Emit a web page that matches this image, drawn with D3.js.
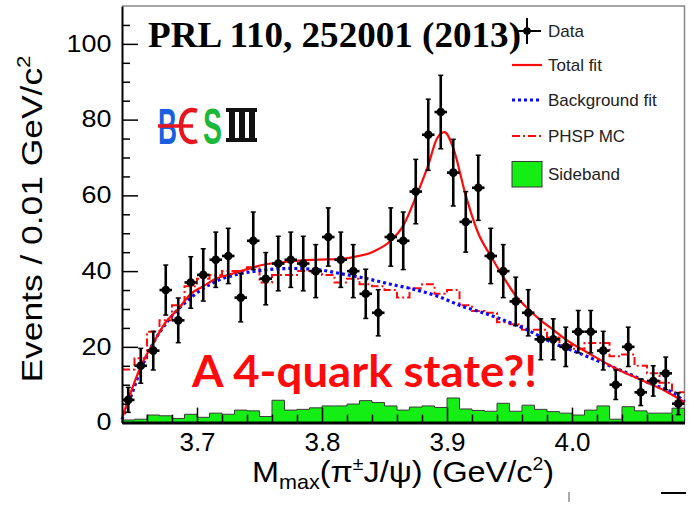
<!DOCTYPE html>
<html>
<head>
<meta charset="utf-8">
<script src="https://cdn.jsdelivr.net/npm/d3@7"></script>
<style>
  body { margin: 0; background: #fff; }
  svg { display: block; font-family: "Liberation Sans", Arial, sans-serif; }
</style>
</head>
<body>
<svg id="chart" width="689" height="505"></svg>
<script>
// binning: 45 bins of 0.01 GeV/c2 starting at 3.64
var binLow = 3.64, binWidth = 0.01;

// data points (events per bin) and their error bars
var dataCounts = [6, 15, 19, 35, 27, 37, 39, 43, 44, 33, 48, 38, 42, 43, 42, 40, 49, 43, 40, 34, 29,
    49, 48, 61, 76, 82, 66, 53, 62, 44, 40, 32, 29, 22, 22, 20, 24, 24, 19, 10, 20, 8, 11, 13, 5];
var dataErrors = [3.3, 4.6, 5.1, 6.6, 5.9, 6.8, 6.9, 7.3, 7.3, 6.4, 7.6, 6.9, 7.2, 7.3, 7.2, 7.0, 7.7,
    7.3, 7.0, 6.5, 6.1, 7.7, 7.6, 8.5, 9.4, 9.7, 8.8, 8.0, 8.6, 7.3, 7.0, 6.4, 6.1, 5.4, 5.4, 5.2, 5.6,
    5.6, 5.1, 3.9, 5.2, 3.5, 4.0, 4.3, 2.9];

// sideband histogram
var sideband = [0.7, 0.9, 2.0, 1.8, 1.1, 2.2, 1.4, 2.5, 2.2, 3.3, 3.1, 1.6, 5.9, 3.3, 3.5, 3.9, 4.4,
    4.4, 4.9, 5.8, 5.3, 4.4, 3.3, 4.1, 4.4, 4.0, 6.5, 3.6, 3.2, 3.0, 5.1, 3.0, 4.6, 3.5, 2.9, 2.5, 2.0,
    3.3, 4.4, 0.9, 4.2, 3.1, 2.5, 2.5, 3.8];

// PHSP MC histogram
var phsp = [14, 17, 24, 27, 31, 36, 38, 39, 40, 40, 41, 37, 39, 39, 40, 39.5, 39, 37, 38, 36.5, 36,
    35, 33, 35.5, 36.5, 34, 35, 31, 29.5, 29, 26.5, 26, 24.5, 24.5, 22.5, 20.5, 19.5, 21, 21, 17.5, 18,
    15, 13, 10.5, 8];

// total fit curve
var totalX = [3.640, 3.646, 3.655, 3.665, 3.675, 3.685, 3.695, 3.705, 3.715, 3.725, 3.735, 3.745,
    3.755, 3.765, 3.775, 3.795, 3.815, 3.825, 3.840, 3.855, 3.865, 3.875, 3.885, 3.892, 3.898, 3.905,
    3.915, 3.925, 3.935, 3.945, 3.955, 3.965, 3.975, 3.985, 3.995, 4.015, 4.035, 4.055, 4.075, 4.090];
var totalY = [1, 7, 14.8, 21, 26.5, 30, 34, 36, 38, 39, 40, 41, 41.8, 42.2, 42.6, 43, 43.2, 43.7, 45,
    48, 52, 59.5, 68, 75, 76.7, 72.5, 60, 50, 44, 38.5, 33.5, 30, 27, 24.5, 22, 18, 14.3, 11.3, 8.3, 5.4];

// background fit curve
var bgX = [3.640, 3.647, 3.655, 3.665, 3.677, 3.690, 3.703, 3.717, 3.730, 3.743, 3.757, 3.775, 3.796,
    3.814, 3.836, 3.854, 3.876, 3.894, 3.913, 3.926, 3.945, 3.964, 3.985, 4.006, 4.025, 4.044, 4.062,
    4.081, 4.090];
var bgY = [0.8, 6.8, 14, 21, 27, 31.5, 35, 37.6, 39, 39.8, 40.4, 40.7, 40.4, 39.4, 38, 36.6, 35, 33.2,
    30.6, 29.3, 27.1, 24.5, 21, 18.3, 15.7, 13.1, 10.4, 7.8, 5.6];

var xMajor = [3.7, 3.8, 3.9, 4.0];
var xMinor = [3.66, 3.68, 3.72, 3.74, 3.76, 3.78, 3.82, 3.84, 3.86, 3.88, 3.92, 3.94, 3.96, 3.98, 4.02, 4.04, 4.06, 4.08];
var yMajor = [0, 20, 40, 60, 80, 100];
var yMinor = [5, 10, 15, 25, 30, 35, 45, 50, 55, 65, 70, 75, 85, 90, 95, 105];

var legendItems = ['Data', 'Total fit', 'Background fit', 'PHSP MC', 'Sideband'];

var red = '#ff0a0a', blue = '#0a0aff', green = '#14ee14';

var svg = d3.select('#chart');
var x = d3.scaleLinear().domain([3.64, 4.09]).range([122, 684.5]);
var y = d3.scaleLinear().domain([0, 110]).range([422.6, 6]);

var edges = d3.range(sideband.length + 1).map(function(i){ return binLow + i * binWidth; });
function stepPts(vals){
    var pts = vals.map(function(v, i){ return [edges[i], v]; });
    pts.push([edges[vals.length], vals[vals.length - 1]]);
    return pts;
}

// frame (top and right)
svg.append('path')
    .attr('d', 'M122,6 H684.5 V422.6')
    .attr('fill', 'none').attr('stroke', '#888').attr('stroke-width', 1.5);

// sideband
svg.append('path')
    .datum(stepPts(sideband))
    .attr('d', d3.area().curve(d3.curveStepAfter)
        .x(function(d){ return x(d[0]); }).y0(y(0)).y1(function(d){ return y(d[1]); }))
    .attr('fill', green).attr('stroke', '#3a3a3a').attr('stroke-width', 1);

// PHSP MC
svg.append('path')
    .datum(stepPts(phsp))
    .attr('d', d3.line().curve(d3.curveStepAfter)
        .x(function(d){ return x(d[0]); }).y(function(d){ return y(d[1]); }))
    .attr('fill', 'none').attr('stroke', red).attr('stroke-width', 2)
    .attr('stroke-dasharray', '8,3,2,3');

// background fit
svg.append('path')
    .datum(d3.zip(bgX, bgY))
    .attr('d', d3.line().curve(d3.curveMonotoneX)
        .x(function(d){ return x(d[0]); }).y(function(d){ return y(d[1]); }))
    .attr('fill', 'none').attr('stroke', blue).attr('stroke-width', 3.2)
    .attr('stroke-dasharray', '3,3');

// total fit
svg.append('path')
    .datum(d3.zip(totalX, totalY))
    .attr('d', d3.line().curve(d3.curveMonotoneX)
        .x(function(d){ return x(d[0]); }).y(function(d){ return y(d[1]); }))
    .attr('fill', 'none').attr('stroke', red).attr('stroke-width', 2.2);

// axes
var yAxis = svg.append('g').attr('transform', 'translate(122,0)')
    .call(d3.axisLeft(y).tickValues(yMajor).tickSizeInner(-16).tickSizeOuter(0).tickPadding(9));
svg.append('g').attr('transform', 'translate(122,0)')
    .call(d3.axisLeft(y).tickValues(yMinor).tickSizeInner(-8).tickSizeOuter(0).tickFormat(''))
    .select('.domain').remove();
yAxis.select('.domain').attr('stroke-width', 2);
yAxis.selectAll('text').attr('font-size', 23).attr('fill', '#000')
    .attr('font-family', '"Liberation Sans", Arial, sans-serif')
    .attr('transform', 'scale(1.17,1)');

var xAxis = svg.append('g').attr('transform', 'translate(0,422.6)')
    .call(d3.axisBottom(x).tickValues(xMajor).tickFormat(d3.format('.1f'))
        .tickSizeInner(-15).tickSizeOuter(0).tickPadding(10));
svg.append('g').attr('transform', 'translate(0,422.6)')
    .call(d3.axisBottom(x).tickValues(xMinor).tickSizeInner(-8).tickSizeOuter(0).tickFormat(''))
    .select('.domain').remove();
xAxis.select('.domain').attr('stroke-width', 3);
xAxis.selectAll('text').attr('font-size', 26).attr('fill', '#000')
    .attr('font-family', '"Liberation Sans", Arial, sans-serif');
svg.selectAll('.tick line').attr('stroke-width', 1.5);

// data points with error bars
var pts = svg.append('g');
dataCounts.forEach(function(v, i){
    var cx = x(binLow + (i + 0.5) * binWidth);
    var lo = y(v - dataErrors[i]), hi = y(v + dataErrors[i]);
    pts.append('line').attr('x1', cx).attr('x2', cx).attr('y1', lo).attr('y2', hi)
        .attr('stroke', '#000').attr('stroke-width', 2.6);
    pts.append('line').attr('x1', cx - 2.5).attr('x2', cx + 2.5).attr('y1', lo).attr('y2', lo)
        .attr('stroke', '#000').attr('stroke-width', 1.5);
    pts.append('line').attr('x1', cx - 2.5).attr('x2', cx + 2.5).attr('y1', hi).attr('y2', hi)
        .attr('stroke', '#000').attr('stroke-width', 1.5);
    pts.append('line').attr('x1', x(edges[i])).attr('x2', x(edges[i + 1])).attr('y1', y(v)).attr('y2', y(v))
        .attr('stroke', '#000').attr('stroke-width', 2.6);
    pts.append('circle').attr('cx', cx).attr('cy', y(v)).attr('r', 4.3).attr('fill', '#000');
});

// axis titles
var yt = svg.append('text')
    .attr('transform', 'translate(42,219) rotate(-90) scale(1.18,1)')
    .attr('text-anchor', 'middle').attr('font-size', 30).attr('fill', '#000');
yt.append('tspan').text('Events / 0.01 GeV/c');
yt.append('tspan').attr('font-size', 19).attr('dy', -12).text('2');

var xt = svg.append('text')
    .attr('transform', 'translate(403,482) scale(1.08,1)')
    .attr('text-anchor', 'middle').attr('font-size', 30).attr('fill', '#000');
xt.append('tspan').text('M');
xt.append('tspan').attr('font-size', 20).attr('dy', 7).text('max');
xt.append('tspan').attr('dy', -7).text('(π');
xt.append('tspan').attr('font-size', 18).attr('dy', -12).text('±');
xt.append('tspan').attr('dy', 12).text('J/ψ) (GeV/c');
xt.append('tspan').attr('font-size', 18).attr('dy', -12).text('2');
xt.append('tspan').attr('dy', 12).text(')');

// title
svg.append('text').attr('x', 148).attr('y', 46.5)
    .attr('font-family', '"Liberation Serif", "Times New Roman", serif')
    .attr('font-weight', 'bold').attr('font-size', 36).attr('fill', '#000')
    .attr('textLength', 373).attr('lengthAdjust', 'spacingAndGlyphs')
    .text('PRL 110, 252001 (2013)');

// annotation
svg.append('text').attr('x', 192).attr('y', 387)
    .attr('font-family', 'Lato, "Open Sans", sans-serif')
    .attr('font-weight', 'bold').attr('font-size', 43).attr('fill', red)
    .attr('textLength', 345).attr('lengthAdjust', 'spacingAndGlyphs')
    .text('A 4-quark state?!');

// BESIII logo
var logo = svg.append('g');
logo.append('text').attr('x', 158).attr('y', 144).attr('font-weight', 'bold').attr('font-size', 50)
    .attr('fill', '#1a5fe0').attr('textLength', 19).attr('lengthAdjust', 'spacingAndGlyphs').text('B');
logo.append('path').attr('d', 'M197,111 C186,107 181,116 181,126 C181,136 186,145 197,141')
    .attr('fill', 'none').attr('stroke', '#e8141e').attr('stroke-width', 4.5);
logo.append('line').attr('x1', 158).attr('x2', 193).attr('y1', 126).attr('y2', 126)
    .attr('stroke', '#e8141e').attr('stroke-width', 3.5);
logo.append('text').attr('x', 203).attr('y', 144).attr('font-weight', 'bold').attr('font-size', 50)
    .attr('fill', '#1cb83c').attr('textLength', 19).attr('lengthAdjust', 'spacingAndGlyphs').text('S');
logo.append('rect').attr('x', 226).attr('y', 108).attr('width', 31).attr('height', 4).attr('fill', '#111');
logo.append('rect').attr('x', 226).attr('y', 138).attr('width', 31).attr('height', 4).attr('fill', '#111');
[229, 239, 249].forEach(function(sx){
    logo.append('rect').attr('x', sx).attr('y', 108).attr('width', 6).attr('height', 34).attr('fill', '#111');
});

// legend
var legRows = [31, 65, 100, 136, 174];
var leg = svg.append('g');
legendItems.forEach(function(name, i){
    var ly = legRows[i];
    if (i === 0) {
        leg.append('line').attr('x1', 517).attr('x2', 541).attr('y1', ly).attr('y2', ly)
            .attr('stroke', '#000').attr('stroke-width', 2);
        leg.append('line').attr('x1', 527).attr('x2', 527).attr('y1', ly - 13).attr('y2', ly + 13)
            .attr('stroke', '#000').attr('stroke-width', 2);
        leg.append('circle').attr('cx', 527).attr('cy', ly).attr('r', 3.8).attr('fill', '#000');
    } else if (i === 4) {
        leg.append('rect').attr('x', 512).attr('y', ly - 12.5).attr('width', 30).attr('height', 25.5)
            .attr('fill', green).attr('stroke', '#3a3a3a').attr('stroke-width', 1);
    } else {
        var ln = leg.append('line').attr('x1', 512).attr('x2', 542).attr('y1', ly).attr('y2', ly)
            .attr('fill', 'none');
        if (i === 1) ln.attr('stroke', red).attr('stroke-width', 2.2);
        if (i === 2) ln.attr('stroke', blue).attr('stroke-width', 3).attr('stroke-dasharray', '3,3');
        if (i === 3) ln.attr('stroke', red).attr('stroke-width', 2).attr('stroke-dasharray', '8,3,2,3');
    }
    leg.append('text').attr('x', 548).attr('y', ly + 6).attr('font-size', 17).attr('fill', '#222')
        .text(name);
});

// slide artifacts at the bottom
svg.append('line').attr('x1', 661).attr('x2', 686).attr('y1', 493).attr('y2', 493)
    .attr('stroke', '#000').attr('stroke-width', 2);
svg.append('line').attr('x1', 569).attr('x2', 569).attr('y1', 492).attr('y2', 502)
    .attr('stroke', '#555').attr('stroke-width', 1);
</script>
</body>
</html>
